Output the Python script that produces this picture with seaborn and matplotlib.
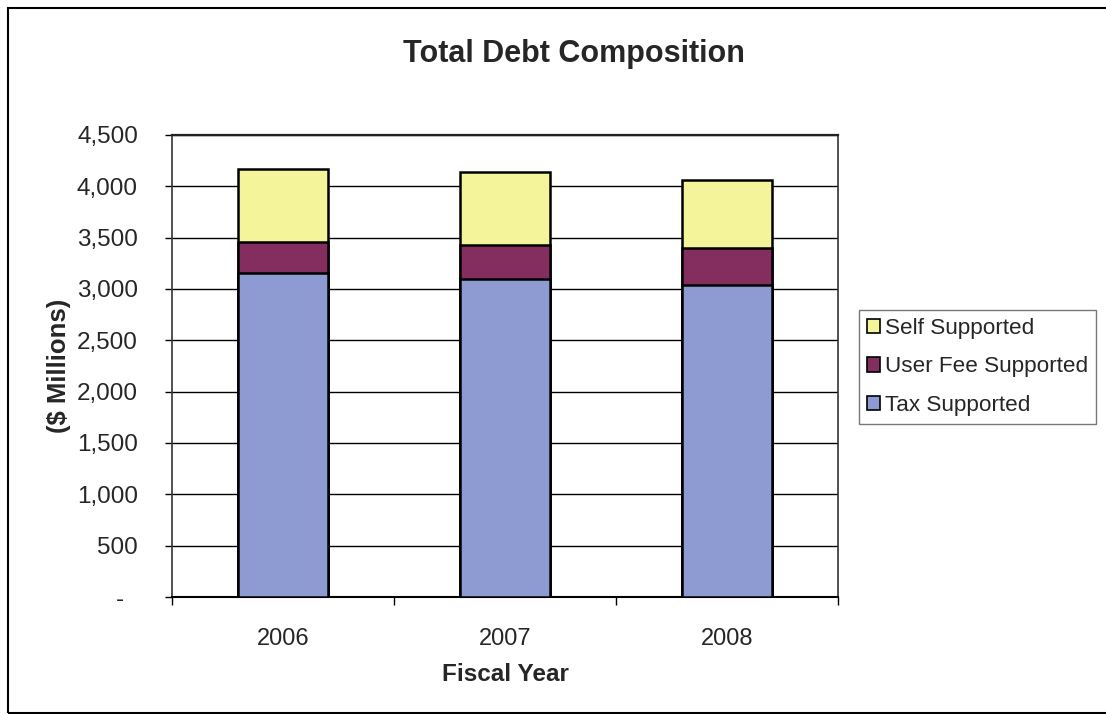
import matplotlib
matplotlib.use("Agg")
import matplotlib.pyplot as plt
import seaborn as sns
import numpy as np
import pandas as pd
from matplotlib.patches import Rectangle, Patch
from matplotlib.ticker import FixedLocator, FuncFormatter

years = ["2006", "2007", "2008"]
tax_supported = [3160, 3100, 3035]
user_fee_supported = [300, 325, 360]
self_supported = [710, 710, 670]
series_names = ["Self Supported", "User Fee Supported", "Tax Supported"]
colors = {"Tax Supported": "#8E9AD2", "User Fee Supported": "#832E5E", "Self Supported": "#F4F49A"}

sns.set_theme(style="white")
plt.rcParams["font.family"] = ["Liberation Sans", "DejaVu Sans"]

W, H = 1106, 714
fig = plt.figure(figsize=(W / 100, H / 100), dpi=100)
fig.subplots_adjust(left=172 / W, right=838 / W, top=1 - 135 / H, bottom=1 - 597 / H)
ax = fig.add_subplot(111)

df = pd.DataFrame({
    "year": years,
    "Tax Supported": tax_supported,
    "User Fee Supported": user_fee_supported,
    "Self Supported": self_supported,
})
df["cum_tax"] = df["Tax Supported"]
df["cum_uf"] = df["cum_tax"] + df["User Fee Supported"]
df["cum_self"] = df["cum_uf"] + df["Self Supported"]

bw = 0.405
for col, name in [("cum_self", "Self Supported"), ("cum_uf", "User Fee Supported"), ("cum_tax", "Tax Supported")]:
    sns.barplot(data=df, x="year", y=col, color=colors[name], saturation=1, width=bw,
                edgecolor="black", linewidth=1.8, ax=ax, zorder=3)

ax.set_ylim(0, 4500)
ax.set_xlim(-0.5, 2.5)
ax.yaxis.set_major_locator(FixedLocator(np.arange(0, 4501, 500)))
ax.yaxis.set_major_formatter(FuncFormatter(lambda v, p: "-  " if v == 0 else f"{int(v):,}"))
ax.grid(axis="y", color="black", linewidth=1.0, zorder=0)
ax.set_axisbelow(True)

ax.tick_params(axis="y", which="major", direction="out", length=5, width=1, color="black",
               labelsize=17.5, pad=19.5, left=True)
ax.set_xticks([0, 1, 2])
ax.set_xticks([-0.5, 0.5, 1.5, 2.5], minor=True)
ax.tick_params(axis="x", which="major", length=0, labelsize=17, pad=22)
ax.tick_params(axis="x", which="minor", direction="out", length=6, width=1, color="black", bottom=True)

for s in ax.spines.values():
    s.set_color("#333333")
    s.set_linewidth(1.2)
ax.spines["bottom"].set_color("black")
ax.spines["bottom"].set_linewidth(1.5)
ax.spines["top"].set_color("#222222")
ax.spines["top"].set_linewidth(1.6)

ax.set_xlabel("Fiscal Year", fontsize=17.5, fontweight="bold", labelpad=10)
ax.set_ylabel("($ Millions)", fontsize=18.5, fontweight="bold", labelpad=4)
fig.text(574 / W, 1 - 54 / H, "Total Debt Composition", fontsize=22, fontweight="bold",
         ha="center", va="center")

handles = [Patch(facecolor=colors[n], edgecolor="black", linewidth=1.2) for n in series_names]
leg = fig.legend(handles, series_names, loc="upper left", bbox_to_anchor=(859 / W, 1 - 310 / H),
                 frameon=True, fancybox=False, fontsize=16.2, handlelength=0.6, handleheight=0.6,
                 handletextpad=0.22, labelspacing=0.78, borderpad=0.35, borderaxespad=0)
leg.get_frame().set_edgecolor("#555555")
leg.get_frame().set_linewidth(1.0)

fig.patches.append(Rectangle((8 / W, 1 / H), 1.2, 1 - 9 / H, transform=fig.transFigure,
                             fill=False, edgecolor="black", linewidth=1.5, zorder=10))

fig.savefig("out.png", dpi=100)
